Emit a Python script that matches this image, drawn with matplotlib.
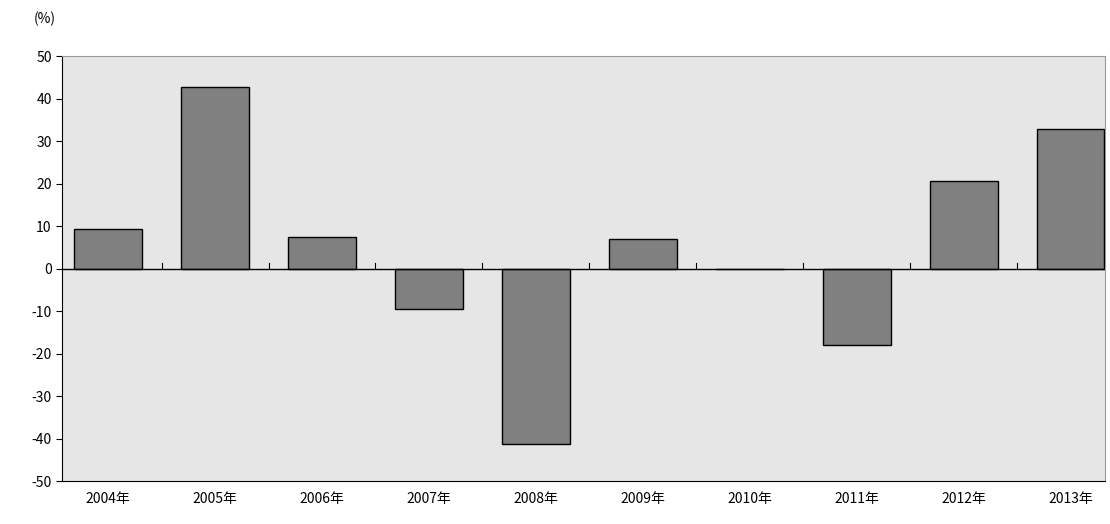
import matplotlib
matplotlib.use("Agg")
import matplotlib.pyplot as plt
import numpy as np

plt.rcParams['font.family'] = ['Noto Sans CJK JP', 'DejaVu Sans']
plt.rcParams['axes.unicode_minus'] = False

years = ["2004年", "2005年", "2006年", "2007年", "2008年",
         "2009年", "2010年", "2011年", "2012年", "2013年"]
values = [9.4, 42.8, 7.5, -9.6, -41.2, 7.0, 0.0, -18.1, 20.5, 32.9]

fig = plt.figure(figsize=(11.1, 5.24), dpi=100)
ax = fig.add_axes([0.0559, 0.082, 0.9396, 0.811])
ax.set_facecolor("#e6e6e6")

x = np.arange(len(years))
ax.bar(x, values, width=0.63, color="#808080", edgecolor="black", linewidth=1.0, zorder=3)
ax.axhline(0, color="black", linewidth=1.0, zorder=4)

ax.set_xlim(-0.43, 9.32)
ax.set_ylim(-50, 50)
ax.set_yticks(range(-50, 51, 10))
ax.set_xticks(x)
ax.set_xticklabels(years, fontsize=10)
ax.tick_params(axis="x", length=0, pad=8)
ax.tick_params(axis="y", labelsize=10, length=4, direction="out")
# small ticks on the zero line between categories
for b in x[:-1] + 0.5:
    ax.plot([b, b], [0, 1.2], color="black", linewidth=0.8, zorder=4)

for s in ["top", "right"]:
    ax.spines[s].set_color("#999999")
ax.spines["left"].set_color("black")
ax.spines["bottom"].set_color("black")

fig.text(0.03, 0.955, "(%)", fontsize=10)
fig.savefig("out.png", dpi=100)
